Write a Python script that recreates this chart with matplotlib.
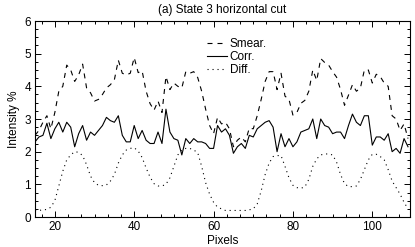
import matplotlib
matplotlib.use("Agg")
import matplotlib.pyplot as plt
from matplotlib.ticker import MultipleLocator, AutoMinorLocator

plt.rcParams['font.family'] = ['Liberation Sans', 'DejaVu Sans']

pixels = list(range(15, 110))

corr = [2.30, 2.45, 2.50, 2.87, 2.40, 2.70, 2.90, 2.60, 2.90, 2.75,
        2.15, 2.55, 2.80, 2.35, 2.60, 2.50, 2.65, 2.80, 3.05, 2.95,
        2.90, 3.10, 2.50, 2.30, 2.30, 2.80, 2.40, 2.65, 2.35, 2.25,
        2.25, 2.60, 2.25, 3.30, 2.60, 2.40, 2.35, 1.90, 2.40, 2.25,
        2.40, 2.30, 2.30, 2.25, 2.10, 2.10, 2.80, 2.60, 2.70, 2.50,
        1.95, 2.15, 2.25, 2.10, 2.50, 2.45, 2.70, 2.80, 2.90, 2.95,
        2.75, 2.00, 2.55, 2.15, 2.40, 2.15, 2.30, 2.60, 2.65, 2.70,
        3.00, 2.40, 3.00, 2.80, 2.75, 2.55, 2.60, 2.60, 2.40, 2.80,
        3.15, 2.90, 2.80, 3.10, 3.10, 2.20, 2.45, 2.45, 2.35, 2.55,
        2.00, 2.10, 1.95, 2.40, 2.15]

diff = [0.20, 0.20, 0.22, 0.23, 0.30, 0.50, 0.95, 1.40, 1.75, 1.90,
        2.00, 1.98, 1.88, 1.60, 1.25, 1.05, 0.97, 0.96, 0.98, 1.10,
        1.30, 1.65, 1.90, 2.05, 2.10, 2.12, 2.02, 1.82, 1.50, 1.22,
        1.02, 0.95, 0.95, 1.00, 1.20, 1.55, 1.90, 2.05, 2.10, 2.10,
        2.05, 1.97, 1.55, 1.05, 0.70, 0.45, 0.30, 0.25, 0.20, 0.20,
        0.20, 0.20, 0.20, 0.20, 0.22, 0.25, 0.40, 0.80, 1.30, 1.65,
        1.85, 1.88, 1.88, 1.55, 1.20, 0.97, 0.90, 0.88, 0.92, 1.15,
        1.55, 1.78, 1.90, 1.93, 1.93, 1.90, 1.68, 1.30, 1.02, 0.93,
        0.93, 0.95, 1.15, 1.45, 1.75, 1.92, 1.92, 1.85, 1.75, 1.45,
        1.10, 0.90, 0.70, 0.45, 0.25]

smear = [2.50, 2.65, 2.90, 3.10, 2.70, 3.20, 3.85, 4.00, 4.65, 4.50,
         4.15, 4.35, 4.68, 3.95, 3.80, 3.55, 3.60, 3.75, 3.95, 4.05,
         4.20, 4.80, 4.40, 4.35, 4.40, 4.88, 4.42, 4.47, 3.85, 3.47,
         3.27, 3.55, 3.20, 4.30, 3.90, 4.10, 4.00, 3.95, 4.45, 4.40,
         4.45, 4.27, 3.85, 3.30, 2.80, 2.55, 3.05, 2.85, 2.90, 2.70,
         2.15, 2.35, 2.45, 2.30, 2.72, 2.70, 3.10, 3.60, 4.15, 4.45,
         4.45, 3.90, 4.40, 3.70, 3.60, 3.12, 3.20, 3.48, 3.57, 3.85,
         4.50, 4.18, 4.85, 4.73, 4.65, 4.45, 4.28, 3.90, 3.42, 3.73,
         4.05, 3.85, 3.95, 4.50, 4.50, 4.10, 4.37, 4.30, 4.10, 4.00,
         3.10, 3.00, 2.65, 2.85, 2.40]

fs = 8.5

fig = plt.figure(figsize=(4.15, 2.47), dpi=100)
ax = fig.add_axes([35/415, 1-217/247, 375/415, 196/247])

lw = 0.8
ax.plot(pixels, smear, color='black', lw=lw, linestyle=(0, (4.5, 4.5)), label='Smear.')
ax.plot(pixels, corr, color='black', lw=lw, linestyle='-', label='Corr.')
ax.plot(pixels, diff, color='black', lw=lw, linestyle=(0, (1, 3.5)), label='Diff.')

ax.set_xlim(15, 109.5)
ax.set_ylim(0, 6)
ax.xaxis.set_major_locator(MultipleLocator(20))
ax.xaxis.set_minor_locator(AutoMinorLocator(6))
ax.yaxis.set_major_locator(MultipleLocator(1))
ax.yaxis.set_minor_locator(AutoMinorLocator(4))
ax.tick_params(which='both', direction='in', top=True, right=True, width=0.7,
               labelsize=fs, pad=3)
ax.tick_params(which='major', length=4.3)
ax.tick_params(which='minor', length=2.5)
for s in ax.spines.values():
    s.set_linewidth(0.8)

ax.set_title('(a) State 3 horizontal cut', fontsize=fs, pad=5.5)
ax.set_xlabel('Pixels', fontsize=fs, labelpad=1.5)
ax.set_ylabel('Intensity %', fontsize=fs, labelpad=3)

ax.legend(loc='upper left', bbox_to_anchor=(0.459, 0.915), frameon=False,
          fontsize=fs, handlelength=1.7, handletextpad=0.2,
          labelspacing=0.12, borderpad=0, borderaxespad=0)

fig.savefig('out.png', dpi=100)
